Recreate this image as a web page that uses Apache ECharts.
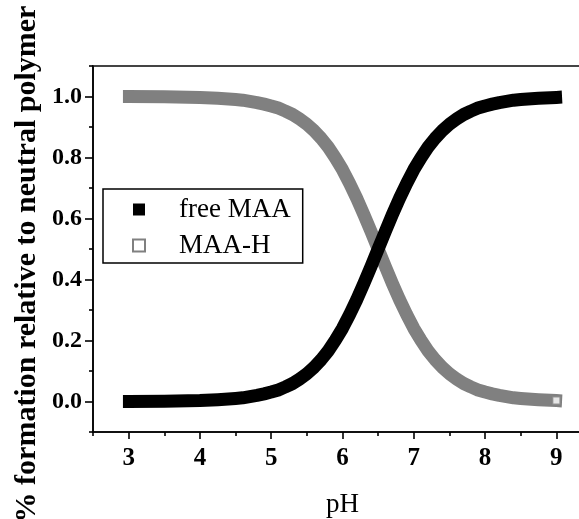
<!DOCTYPE html>
<html>
<head>
<meta charset="utf-8">
<script src="https://cdn.jsdelivr.net/npm/echarts@6/dist/echarts.min.js"></script>
<style>
html,body{margin:0;padding:0;background:#fff;}
#chart{width:579px;height:519px;}
</style>
</head>
<body>
<div id="chart"></div>
<script>
// ---- data ----
var pH = [2.92, 3.0, 3.5, 4.0, 4.25,
  4.5, 4.6, 4.7, 4.8, 4.9, 5.0, 5.1, 5.2, 5.3, 5.4, 5.5, 5.6, 5.7, 5.8, 5.9,
  6.0, 6.1, 6.2, 6.3, 6.4, 6.5, 6.6, 6.7, 6.8, 6.9, 7.0, 7.1, 7.2, 7.3, 7.4,
  7.5, 7.6, 7.7, 7.8, 7.9, 8.0, 8.1, 8.2, 8.3, 8.4, 8.5, 8.75, 9.0, 9.08];
var freeMAA = [0.0, 0.0, 0.001, 0.003, 0.006,
  0.010, 0.012, 0.016, 0.020, 0.025, 0.031, 0.038, 0.048, 0.059, 0.074, 0.091, 0.112, 0.137, 0.166, 0.201,
  0.240, 0.285, 0.334, 0.387, 0.443, 0.500, 0.557, 0.613, 0.666, 0.715, 0.760, 0.799, 0.834, 0.863, 0.888,
  0.909, 0.926, 0.941, 0.952, 0.962, 0.969, 0.975, 0.980, 0.984, 0.988, 0.990, 0.994, 0.997, 0.998];
var maaH = [1.0, 1.0, 0.999, 0.997, 0.994,
  0.990, 0.988, 0.984, 0.980, 0.975, 0.969, 0.962, 0.952, 0.941, 0.926, 0.909, 0.888, 0.863, 0.834, 0.799,
  0.760, 0.715, 0.666, 0.613, 0.557, 0.500, 0.443, 0.387, 0.334, 0.285, 0.240, 0.201, 0.166, 0.137, 0.112,
  0.091, 0.074, 0.059, 0.048, 0.038, 0.031, 0.025, 0.020, 0.016, 0.012, 0.010, 0.006, 0.003, 0.002];
var markerIndex = 47; // MAA-H point at pH 9 drawn with a hollow square
var seriesNames = ['free MAA', 'MAA-H'];
var xTickLabels = [3, 4, 5, 6, 7, 8, 9];
var xMinorTicks = [2.5, 3.5, 4.5, 5.5, 6.5, 7.5, 8.5, 9.5];
var yTickLabels = [0.0, 0.2, 0.4, 0.6, 0.8, 1.0];
var yMinorTicks = [-0.1, 0.1, 0.3, 0.5, 0.7, 0.9, 1.1];
var xName = 'pH';
var yName = '% formation relative to neutral polymer';

var FONT = '"Liberation Serif","Times New Roman",Times,serif';
function pairs(xs, ys){ return xs.map(function(x,i){ return [x, ys[i]]; }); }

var chart = echarts.init(document.getElementById('chart'), null, {renderer:'canvas'});
var baseX = {type:'value', min:2.5, max:9.5, position:'bottom', splitLine:{show:false}};
var baseY = {type:'value', min:-0.1, max:1.1, position:'left', splitLine:{show:false}};
var option = {
  backgroundColor:'#fff',
  animation:false,
  grid:{left:93, top:66, right:-13, bottom:87, containLabel:false, outerBoundsMode:'none',
        show:true, borderColor:'#444', borderWidth:2, backgroundColor:'transparent'},
  legend:{
    left:103, top:189, orient:'vertical',
    padding:[7,12,4,29],
    itemGap:9, itemWidth:12, itemHeight:12,
    borderColor:'#000', borderWidth:1.5,
    textStyle:{fontFamily:FONT, fontSize:27, color:'#000', padding:[0,0,0,29]},
    data:[
      {name:seriesNames[0], icon:'rect', itemStyle:{color:'#000', borderWidth:0}},
      {name:seriesNames[1], icon:'rect', itemStyle:{color:'#fff', borderColor:'#808080', borderWidth:2}}
    ]
  },
  xAxis:[
    Object.assign({}, baseX, {
      name:xName, nameLocation:'middle', nameGap:59,
      nameTextStyle:{fontFamily:FONT, fontSize:27, color:'#000'},
      axisLine:{show:true, onZero:false, lineStyle:{color:'#000', width:1.6}},
      axisTick:{show:true, inside:false, length:7, customValues:xTickLabels, lineStyle:{color:'#000', width:1.6}},
      axisLabel:{show:true, customValues:xTickLabels, margin:14, fontFamily:FONT, fontSize:25, fontWeight:'bold', color:'#000'}
    }),
    Object.assign({}, baseX, {
      axisLine:{show:false, onZero:false},
      axisTick:{show:true, inside:false, length:4, customValues:xMinorTicks, lineStyle:{color:'#000', width:1.6}},
      axisLabel:{show:false}
    })
  ],
  yAxis:[
    Object.assign({}, baseY, {
      axisLine:{show:true, onZero:false, lineStyle:{color:'#000', width:1.6}},
      axisTick:{show:true, inside:false, length:8, customValues:yTickLabels, lineStyle:{color:'#000', width:1.6}},
      axisLabel:{show:true, customValues:yTickLabels, margin:11, fontFamily:FONT, fontSize:24, fontWeight:'bold', color:'#000',
        formatter:function(v){ return v.toFixed(1); }}
    }),
    Object.assign({}, baseY, {
      axisLine:{show:false, onZero:false},
      axisTick:{show:true, inside:false, length:4, customValues:yMinorTicks, lineStyle:{color:'#000', width:1.6}},
      axisLabel:{show:false}
    })
  ],
  graphic:[{
    type:'text', x:27, y:264, rotation:Math.PI/2,
    style:{text:yName, fontFamily:FONT, fontSize:30, fontWeight:'bold', fill:'#000', align:'center', verticalAlign:'middle'}
  }],
  series:[
    {
      name:seriesNames[1], type:'line', xAxisIndex:0, yAxisIndex:0,
      data:pairs(pH, maaH), symbol:'none', smooth:false,
      lineStyle:{color:'#808080', width:13, cap:'butt', join:'round'}, itemStyle:{color:'#808080'}, z:2
    },
    {
      name:seriesNames[0], type:'line', xAxisIndex:0, yAxisIndex:0,
      data:pairs(pH, freeMAA), symbol:'none', smooth:false,
      lineStyle:{color:'#000', width:13, cap:'butt', join:'round'}, itemStyle:{color:'#000'}, z:3
    },
    {
      name:'marker', type:'scatter', xAxisIndex:0, yAxisIndex:0,
      data:[[pH[markerIndex], maaH[markerIndex]]], symbol:'rect', symbolSize:8,
      itemStyle:{color:'#fff', borderColor:'#808080', borderWidth:2}, z:5, silent:true
    }
  ]
};
chart.setOption(option);
</script>
</body>
</html>
